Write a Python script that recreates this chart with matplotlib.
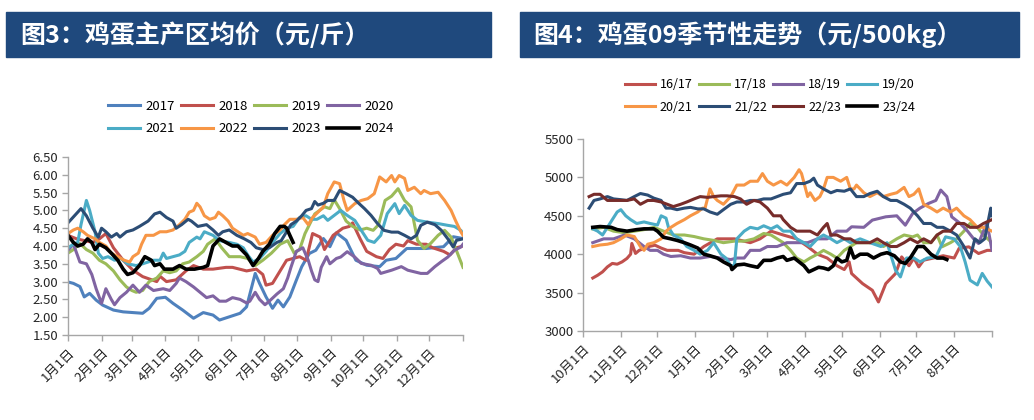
import matplotlib
matplotlib.use("Agg")
import matplotlib.pyplot as plt
from matplotlib.patches import Rectangle

plt.rcParams['font.family'] = ['Noto Sans CJK SC', 'DejaVu Sans']

# ---------------- Left chart: 鸡蛋主产区均价 (days since Jan 1) ----------------
left_title = "图3：鸡蛋主产区均价（元/斤）"
left_month_labels = ["1月1日", "2月1日", "3月1日", "4月1日", "5月1日", "6月1日",
                     "7月1日", "8月1日", "9月1日", "10月1日", "11月1日", "12月1日"]
left_month_days = [0, 31, 59, 90, 120, 151, 181, 212, 243, 273, 304, 334, 365]
left_years = ["2017", "2018", "2019", "2020", "2021", "2022", "2023", "2024"]
left_colors = ["#4F81BD", "#C0504D", "#9BBB59", "#8064A2", "#4BACC6", "#F79646", "#2C4D75", "#000000"]

d2017 = [0, 5, 11, 15, 20, 26, 32, 42, 51, 60, 69, 75, 82, 90, 97, 106, 116, 125, 134, 140,
         149, 159, 165, 173, 177, 183, 189, 194, 199, 205, 211, 216, 223, 229, 236, 242, 248, 257, 266, 276,
         288, 294, 303, 313, 331, 347, 356, 365]
v2017 = [2.99, 2.95, 2.86, 2.57, 2.67, 2.48, 2.34, 2.20, 2.15, 2.13, 2.11, 2.25, 2.53, 2.56, 2.39, 2.20, 1.97, 2.13, 2.06, 1.92,
         2.01, 2.11, 2.29, 3.23, 2.95, 2.57, 2.25, 2.48, 2.29, 2.57, 3.04, 3.42, 3.79, 3.88, 4.21, 3.98, 4.37, 4.16, 3.60, 3.46,
         3.42, 3.60, 3.65, 3.93, 3.93, 3.98, 4.26, 4.21]

d2018 = [0, 8, 23, 29, 35, 42, 51, 60, 69, 82, 85, 91, 100, 109, 116, 125, 134, 146, 152, 165,
         174, 180, 183, 189, 196, 202, 208, 214, 220, 226, 233, 237, 245, 254, 260, 263, 270, 276, 285, 291,
         297, 303, 310, 314, 322, 331, 337, 347, 353, 359, 365]
v2018 = [4.30, 4.20, 4.10, 4.20, 4.35, 3.95, 3.60, 3.32, 3.14, 3.00, 3.15, 3.00, 3.05, 3.30, 3.45, 3.35, 3.35, 3.40, 3.40, 3.30,
         3.35, 3.20, 2.90, 2.95, 3.30, 3.60, 3.65, 3.70, 3.60, 4.35, 4.25, 3.90, 4.30, 4.50, 4.55, 4.65, 4.20, 3.85, 3.70, 3.65,
         3.90, 4.05, 4.00, 4.15, 4.05, 4.05, 3.95, 3.85, 3.75, 3.95, 4.00]

d2019 = [0, 5, 11, 17, 23, 29, 35, 42, 48, 54, 59, 63, 69, 75, 82, 88, 94, 100, 106, 112,
         119, 125, 129, 136, 142, 149, 159, 166, 173, 180, 188, 196, 203, 209, 214, 219, 228, 237, 242, 246,
         251, 257, 263, 270, 276, 282, 287, 293, 299, 305, 311, 317, 323, 329, 335, 342, 348, 354, 360, 365]
v2019 = [3.80, 3.90, 4.07, 3.90, 3.80, 3.60, 3.50, 3.30, 3.05, 2.85, 2.75, 2.70, 2.75, 3.00, 3.10, 3.30, 3.25, 3.30, 3.50, 3.55,
         3.70, 3.85, 4.05, 4.20, 3.95, 3.70, 3.70, 3.65, 3.45, 3.60, 3.80, 4.05, 4.15, 3.80, 3.90, 4.35, 4.90, 5.10, 5.05, 5.30,
         5.05, 4.70, 4.55, 4.45, 4.50, 4.44, 4.60, 5.28, 5.40, 5.61, 5.28, 5.10, 4.16, 3.93, 4.07, 4.30, 4.44, 4.25, 3.79, 3.40]

d2020 = [0, 5, 11, 17, 22, 26, 31, 35, 40, 43, 48, 54, 60, 66, 72, 79, 88, 94, 100, 103,
         109, 116, 122, 128, 134, 140, 146, 152, 159, 165, 168, 173, 177, 182, 186, 193, 199, 203, 206, 211,
         217, 222, 225, 228, 231, 234, 239, 242, 248, 252, 258, 265, 271, 280, 286, 289, 299, 308, 314, 326,
         332, 339, 345, 351, 357, 363, 365]
v2020 = [3.88, 4.05, 3.55, 3.50, 3.20, 2.80, 2.39, 2.80, 2.50, 2.35, 2.55, 2.70, 2.90, 2.70, 2.90, 2.75, 2.80, 2.75, 2.95, 3.10,
         3.00, 2.85, 2.70, 2.55, 2.60, 2.45, 2.45, 2.55, 2.50, 2.40, 2.45, 2.70, 2.50, 2.35, 2.45, 2.65, 2.80, 3.10, 3.40, 3.85,
         3.95, 3.60, 3.30, 3.05, 3.00, 3.40, 3.70, 3.50, 3.65, 3.69, 3.84, 3.69, 3.51, 3.46, 3.37, 3.23, 3.32, 3.42, 3.32, 3.23,
         3.23, 3.42, 3.56, 3.69, 3.88, 3.97, 4.05]

d2021 = [0, 5, 9, 12, 17, 20, 25, 28, 32, 37, 43, 49, 55, 63, 69, 79, 85, 88, 91, 97,
         103, 108, 112, 119, 122, 126, 134, 140, 149, 156, 162, 166, 171, 177, 183, 189, 196, 202, 208, 214,
         220, 225, 230, 236, 240, 246, 252, 258, 265, 271, 277, 283, 289, 295, 302, 306, 311, 317, 323, 332,
         342, 351, 357, 363, 365]
v2021 = [3.95, 4.05, 4.10, 4.60, 5.28, 5.00, 4.40, 3.80, 3.65, 3.70, 3.60, 3.65, 3.50, 3.45, 3.50, 3.60, 3.60, 3.80, 3.65, 3.70,
         3.75, 3.85, 4.10, 4.25, 4.20, 4.40, 4.30, 4.15, 4.10, 4.05, 3.95, 3.75, 3.55, 3.65, 3.85, 4.10, 4.35, 4.50, 4.55, 4.80,
         4.85, 4.75, 4.75, 4.85, 4.72, 4.86, 5.00, 4.86, 4.72, 4.44, 4.16, 4.10, 4.30, 4.91, 5.19, 4.91, 5.14, 4.86, 4.72, 4.67,
         4.63, 4.58, 4.55, 4.44, 4.35]

d2022 = [0, 5, 9, 14, 18, 25, 29, 35, 40, 46, 52, 57, 60, 65, 68, 72, 79, 85, 91, 97,
         103, 108, 112, 116, 119, 122, 126, 131, 136, 139, 143, 148, 152, 157, 162, 166, 173, 177, 183, 189,
         196, 200, 205, 211, 217, 222, 226, 231, 236, 240, 246, 251, 255, 258, 265, 271, 277, 283, 288, 294,
         299, 302, 306, 311, 314, 320, 326, 329, 335, 342, 348, 354, 358, 363, 365]
v2022 = [4.35, 4.45, 4.50, 4.40, 4.30, 4.20, 4.10, 4.00, 3.80, 3.70, 3.60, 3.55, 3.70, 3.80, 4.05, 4.30, 4.30, 4.40, 4.40, 4.45,
         4.60, 4.75, 4.95, 5.00, 5.20, 5.10, 4.85, 4.75, 4.80, 4.95, 4.85, 4.70, 4.50, 4.40, 4.30, 4.35, 4.25, 4.05, 4.10, 4.30,
         4.45, 4.60, 4.75, 4.75, 4.80, 4.60, 4.80, 4.95, 5.10, 5.47, 5.80, 5.75, 5.28, 5.00, 5.19, 5.28, 5.33, 5.47, 5.94, 5.80,
         5.98, 5.80, 5.98, 5.90, 5.56, 5.65, 5.47, 5.56, 5.47, 5.51, 5.28, 5.00, 4.72, 4.40, 4.30]

d2023 = [0, 3, 9, 12, 17, 23, 28, 31, 35, 40, 45, 48, 54, 60, 66, 74, 80, 85, 91, 97,
         100, 105, 111, 114, 120, 128, 134, 139, 143, 149, 156, 163, 169, 174, 180, 186, 193, 197, 202, 206,
         211, 216, 220, 225, 228, 231, 236, 240, 246, 251, 257, 263, 269, 274, 280, 286, 292, 299, 305, 311,
         317, 322, 326, 332, 339, 345, 351, 356, 359, 365]
v2023 = [4.65, 4.75, 4.95, 5.05, 4.85, 4.50, 4.25, 4.50, 4.40, 4.25, 4.35, 4.25, 4.40, 4.45, 4.55, 4.70, 4.90, 4.95, 4.80, 4.70,
         4.50, 4.60, 4.75, 4.70, 4.55, 4.60, 4.45, 4.30, 4.40, 4.45, 4.30, 4.20, 4.10, 3.95, 3.90, 3.95, 4.10, 4.15, 4.40, 4.60,
         4.70, 4.85, 5.00, 5.05, 5.25, 5.15, 5.20, 5.28, 5.28, 5.56, 5.47, 5.37, 5.19, 5.05, 4.86, 4.63, 4.44, 4.39, 4.39, 4.30,
         4.20, 4.30, 4.58, 4.67, 4.60, 4.44, 4.20, 3.97, 4.16, 4.20]

d2024 = [0, 5, 9, 14, 18, 22, 25, 29, 35, 40, 46, 51, 55, 60, 66, 71, 77, 80, 85, 89,
         97, 103, 109, 117, 125, 129, 134, 140, 146, 152, 157, 165, 171, 176, 180, 186, 191, 196, 200, 202,
         205, 208]
v2024 = [4.30, 4.10, 4.00, 4.05, 4.20, 4.10, 3.90, 4.05, 3.95, 3.80, 3.60, 3.35, 3.20, 3.25, 3.45, 3.70, 3.60, 3.45, 3.50, 3.35,
         3.35, 3.45, 3.35, 3.35, 3.40, 3.45, 4.00, 4.20, 4.10, 4.00, 4.00, 3.75, 3.45, 3.65, 3.85, 4.05, 4.35, 4.55, 4.55, 4.50,
         4.30, 4.10]

left_days = [d2017, d2018, d2019, d2020, d2021, d2022, d2023, d2024]
left_vals = [v2017, v2018, v2019, v2020, v2021, v2022, v2023, v2024]
left_yticks = [1.5, 2.0, 2.5, 3.0, 3.5, 4.0, 4.5, 5.0, 5.5, 6.0, 6.5]

# ---------------- Right chart: 鸡蛋09季节性 (days since Oct 1) ----------------
right_title = "图4：鸡蛋09季节性走势（元/500kg）"
right_month_labels = ["10月1日", "11月1日", "12月1日", "1月1日", "2月1日", "3月1日",
                      "4月1日", "5月1日", "6月1日", "7月1日", "8月1日"]
right_month_days = [0, 31, 61, 92, 123, 151, 182, 212, 243, 273, 304, 335]
right_seasons = ["16/17", "17/18", "18/19", "19/20", "20/21", "21/22", "22/23", "23/24"]
right_colors = ["#C0504D", "#9BBB59", "#8064A2", "#4BACC6", "#F79646", "#2C4D75", "#772C2A", "#000000"]

s1617_d = [8, 12, 16, 20, 24, 28, 32, 36, 39, 40, 43, 46, 50, 54, 59, 64, 69, 78, 83, 91,
           99, 110, 124, 137, 145, 154, 164, 175, 184, 192, 200, 208, 214, 218, 220, 229, 237, 242, 248, 256,
           261, 267, 271, 275, 279, 287, 295, 304, 308, 316, 324, 331, 335]
s1617_v = [3690, 3726, 3770, 3835, 3880, 3870, 3900, 3945, 4000, 4140, 4010, 4050, 4075, 4100, 4117, 4080, 4050, 4050, 4020, 4000,
           4100, 4200, 4200, 4150, 4200, 4300, 4250, 4200, 4100, 4000, 3950, 3850, 3800, 3900, 3748, 3617, 3530, 3378, 3617, 3748,
           3965, 3850, 3950, 3835, 3922, 3950, 3980, 3950, 4074, 4096, 4009, 4050, 4050]

s1718_d = [8, 17, 25, 34, 42, 50, 58, 66, 74, 83, 91, 99, 107, 115, 124, 132, 140, 148, 154, 159,
           164, 170, 175, 181, 186, 192, 197, 203, 208, 214, 219, 224, 230, 235, 241, 246, 252, 257, 263, 270,
           274, 279, 285, 290, 294, 301, 306, 312, 317, 323, 328, 335]
s1718_v = [4330, 4350, 4300, 4280, 4300, 4320, 4350, 4300, 4250, 4250, 4230, 4200, 4180, 4150, 4170, 4170, 4200, 4270, 4250, 4200,
           4150, 4050, 3950, 3900, 3950, 4000, 4050, 4000, 3950, 4050, 4100, 4150, 4150, 4150, 4150, 4100, 4150, 4200, 4250, 4226,
           4250, 4150, 4150, 4250, 4096, 4150, 4200, 4300, 4400, 4350, 4250, 4150]

s1819_d = [8, 17, 25, 34, 42, 50, 55, 61, 66, 72, 80, 88, 96, 104, 113, 121, 126, 132, 137, 145,
           151, 159, 167, 175, 184, 192, 200, 208, 216, 220, 230, 237, 248, 257, 264, 270, 276, 283, 289, 293,
           298, 302, 309, 315, 320, 324, 328, 331, 335]
s1819_v = [4150, 4200, 4200, 4250, 4200, 4100, 4050, 4050, 4000, 3970, 3980, 3950, 3950, 3970, 3950, 3930, 3950, 3950, 4050, 4050,
           4100, 4100, 4150, 4150, 4150, 4200, 4200, 4300, 4300, 4357, 4350, 4444, 4487, 4500, 4378, 4530, 4600, 4661, 4700, 4835,
           4750, 4487, 4400, 4300, 4200, 4139, 4300, 4400, 4050]

s1920_d = [8, 12, 16, 20, 24, 28, 31, 35, 39, 44, 50, 55, 61, 64, 68, 70, 74, 80, 85, 91,
           96, 102, 107, 113, 117, 121, 124, 126, 132, 137, 143, 148, 154, 159, 164, 170, 175, 181, 186, 192,
           197, 203, 208, 214, 219, 227, 235, 244, 249, 256, 260, 265, 271, 276, 282, 289, 297, 304, 309, 313,
           317, 323, 327, 331, 335]
s1920_v = [4330, 4300, 4250, 4350, 4450, 4550, 4580, 4500, 4450, 4400, 4420, 4400, 4380, 4500, 4470, 4350, 4250, 4200, 4100, 4050,
           4000, 4050, 4150, 4000, 3950, 3850, 3850, 4200, 4300, 4350, 4330, 4370, 4330, 4370, 4300, 4300, 4200, 4150, 4100, 4200,
           4250, 4200, 4150, 4200, 4150, 4200, 4150, 4100, 4150, 3791, 3704, 3950, 3950, 3900, 3950, 3965, 4226, 4200, 4100, 3900,
           3661, 3600, 3750, 3650, 3574]

s2021_d = [8, 14, 20, 25, 31, 36, 42, 47, 50, 53, 58, 64, 68, 72, 77, 83, 88, 94, 98, 100,
           104, 107, 110, 115, 121, 126, 132, 137, 143, 147, 151, 156, 162, 167, 173, 177, 179, 184, 186, 190,
           194, 197, 200, 205, 211, 216, 219, 222, 224, 230, 235, 241, 246, 252, 257, 263, 267, 271, 275, 279,
           285, 290, 295, 301, 306, 312, 317, 323, 328, 335]
s2021_v = [4100, 4120, 4130, 4150, 4200, 4250, 4230, 4100, 4050, 4130, 4150, 4200, 4300, 4350, 4400, 4450, 4500, 4550, 4600, 4600,
           4850, 4750, 4700, 4650, 4750, 4900, 4900, 4950, 4950, 5050, 4950, 4900, 4950, 4900, 5000, 5100, 5050, 4750, 4800, 4700,
           4750, 4850, 5000, 5000, 4950, 5000, 4850, 4850, 4900, 4800, 4750, 4800, 4750, 4780, 4800, 4870, 4750, 4780, 4850, 4650,
           4600, 4550, 4600, 4550, 4600, 4500, 4450, 4350, 4350, 4300]

s2122_d = [5, 9, 14, 20, 25, 31, 36, 42, 47, 53, 58, 64, 68, 72, 77, 83, 88, 94, 99, 104,
           110, 115, 121, 126, 132, 137, 143, 148, 154, 159, 164, 170, 175, 181, 186, 189, 192, 197, 203, 208,
           214, 219, 224, 230, 235, 241, 246, 252, 257, 263, 268, 274, 279, 285, 290, 295, 301, 306, 312, 317,
           321, 325, 329, 334, 335]
s2122_v = [4600, 4700, 4720, 4750, 4720, 4710, 4700, 4750, 4790, 4770, 4730, 4700, 4600, 4600, 4580, 4600, 4610, 4590, 4590, 4550,
           4520, 4580, 4650, 4680, 4680, 4700, 4700, 4720, 4720, 4750, 4780, 4800, 4920, 4920, 4950, 4990, 4900, 4850, 4800, 4830,
           4820, 4850, 4750, 4750, 4790, 4820, 4750, 4700, 4700, 4650, 4600, 4500, 4400, 4400, 4350, 4350, 4300, 4250, 4100, 3950,
           4200, 4150, 4200, 4600, 4500]

s2223_d = [5, 9, 14, 20, 25, 31, 36, 42, 47, 53, 58, 64, 69, 74, 80, 85, 91, 96, 102, 107,
           113, 118, 124, 129, 134, 140, 145, 151, 156, 162, 164, 170, 175, 181, 186, 192, 197, 200, 203, 208,
           214, 219, 224, 230, 235, 241, 246, 252, 257, 263, 268, 274, 279, 285, 290, 295, 301, 306, 312, 317,
           323, 328, 335]
s2223_v = [4750, 4780, 4780, 4700, 4700, 4700, 4700, 4720, 4650, 4700, 4700, 4680, 4650, 4620, 4650, 4680, 4720, 4750, 4740, 4750,
           4760, 4760, 4750, 4720, 4650, 4700, 4680, 4600, 4500, 4500, 4450, 4350, 4300, 4300, 4300, 4250, 4350, 4400, 4250, 4250,
           4200, 4200, 4150, 4150, 4150, 4200, 4150, 4100, 4100, 4150, 4200, 4150, 4200, 4150, 4250, 4300, 4300, 4400, 4400, 4350,
           4350, 4400, 4450]

s2324_d = [8, 14, 23, 28, 36, 44, 50, 58, 61, 66, 72, 77, 83, 88, 94, 99, 104, 110, 115, 121,
           122, 126, 132, 137, 143, 148, 154, 159, 164, 167, 173, 177, 181, 185, 189, 193, 197, 201, 205, 208,
           212, 216, 219, 222, 227, 233, 238, 244, 249, 255, 260, 264, 268, 274, 279, 285, 290, 295, 298]
s2324_v = [4350, 4360, 4350, 4320, 4300, 4320, 4330, 4330, 4300, 4220, 4200, 4180, 4150, 4120, 4080, 4000, 3980, 3950, 3900, 3850,
           3800, 3860, 3870, 3850, 3830, 3920, 3920, 3950, 3970, 3920, 3950, 3900, 3850, 3770, 3800, 3830, 3820, 3800, 3850, 3950,
           3900, 3920, 4080, 3950, 4000, 4000, 3950, 4000, 4020, 3980, 3900, 3880, 3950, 4100, 4100, 4000, 3950, 3950, 3930]

right_days = [s1617_d, s1718_d, s1819_d, s1920_d, s2021_d, s2122_d, s2223_d, s2324_d]
right_vals = [s1617_v, s1718_v, s1819_v, s1920_v, s2021_v, s2122_v, s2223_v, s2324_v]
right_yticks = [3000, 3500, 4000, 4500, 5000, 5500]

# ---------------- Figure ----------------
W, H = 1034, 420
fig = plt.figure(figsize=(W / 100, H / 100), dpi=100)
BAR = "#1F497D"
TXT = "#262626"
AX_GRAY = "#A6A6A6"


def fx(px):
    return px / W


def fy(py):
    return 1 - py / H


# title bars
for (x0, x1, title, tx) in [(6, 491, left_title, 20), (520, 1019, right_title, 533)]:
    fig.patches.append(Rectangle((fx(x0), fy(57)), fx(x1 - x0), (57 - 12) / H,
                                 transform=fig.transFigure, color=BAR, zorder=0))
    fig.text(fx(tx), fy(35), title, color="white", fontsize=18, fontweight="bold",
             va="center", ha="left")


def style_axes(ax, month_days, month_labels, yticks, yfmt):
    for s in ["top", "right"]:
        ax.spines[s].set_visible(False)
    for s in ["left", "bottom"]:
        ax.spines[s].set_color(AX_GRAY)
        ax.spines[s].set_linewidth(1.0)
    ax.set_xticks(month_days)
    labels = list(month_labels) + [""] * (len(month_days) - len(month_labels))
    ax.set_xticklabels(labels, rotation=45, ha="right", rotation_mode="anchor",
                       fontsize=9.5, color=TXT)
    ax.set_yticks(yticks)
    ax.set_yticklabels([yfmt(v) for v in yticks], fontsize=9.5, color=TXT)
    ax.tick_params(axis="both", direction="out", length=4, width=1, color=AX_GRAY, pad=3)
    ax.tick_params(axis="x", pad=4)
    ax.set_facecolor("none")


def row_major_legend(ax, center, fontsize, ncol=4):
    handles, labels = ax.get_legend_handles_labels()
    nrow = (len(handles) + ncol - 1) // ncol
    order = [r * ncol + c for c in range(ncol) for r in range(nrow) if r * ncol + c < len(handles)]
    ax.legend([handles[i] for i in order], [labels[i] for i in order],
              loc="center", bbox_to_anchor=center, bbox_transform=fig.transFigure,
              ncol=ncol, frameon=False, fontsize=fontsize, handlelength=2.4, handletextpad=0.4,
              columnspacing=0.5, labelspacing=0.75, borderaxespad=0)


# left axes
axL = fig.add_axes([fx(68), fy(335), fx(463 - 68), (335 - 157) / H])
for name, col, dd, vv in zip(left_years, left_colors, left_days, left_vals):
    lw = 2.6 if name == "2024" else 2.2
    axL.plot(dd, vv, color=col, lw=lw, label=name, solid_joinstyle="round")
axL.set_xlim(0, 365)
axL.set_ylim(1.5, 6.5)
style_axes(axL, left_month_days, left_month_labels, left_yticks, lambda v: f"{v:.2f}")
row_major_legend(axL, (fx(251), fy(117.5)), 9.5)

# right axes
axR = fig.add_axes([fx(583), fy(331), fx(992 - 583), (331 - 139) / H])
for name, col, dd, vv in zip(right_seasons, right_colors, right_days, right_vals):
    lw = 2.6 if name == "23/24" else 2.2
    axR.plot(dd, vv, color=col, lw=lw, label=name, solid_joinstyle="round")
axR.set_xlim(0, 335)
axR.set_ylim(3000, 5500)
style_axes(axR, right_month_days, right_month_labels, right_yticks, lambda v: f"{v:d}")
row_major_legend(axR, (fx(770), fy(96)), 9)

fig.savefig("out.png", dpi=100, facecolor="white")
